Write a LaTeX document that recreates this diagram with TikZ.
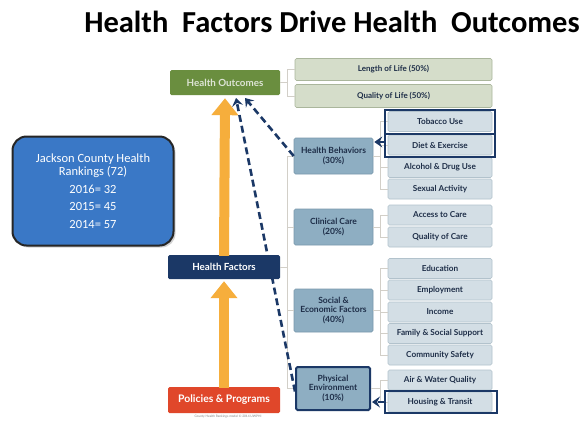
\documentclass[tikz,border=0pt]{standalone}
\usepackage{fontspec}
\setmainfont{Lato}
\newfontfamily\calib{Carlito}
\usetikzlibrary{arrows.meta,shadows}
\definecolor{hogreen}{HTML}{6A8E3F}
\definecolor{hosub}{HTML}{D5DDCA}
\definecolor{hosubd}{HTML}{AAB69C}
\definecolor{fbox}{HTML}{8EAEC2}
\definecolor{fboxd}{HTML}{7A98AC}
\definecolor{sbox}{HTML}{D3DEE5}
\definecolor{sboxd}{HTML}{B2C2CC}
\definecolor{navy}{HTML}{1B3866}
\definecolor{ftext}{HTML}{1E2E48}
\definecolor{orng}{HTML}{F6AE3C}
\definecolor{polred}{HTML}{E0472A}
\definecolor{conn}{HTML}{D2CFC8}
\definecolor{jblue}{HTML}{3A78C6}
\tikzset{
  x=1pt,y=-1pt,
  hobox/.style={draw=hosubd,fill=hosub,line width=0.6pt,rounded corners=1.5pt,text=ftext},
  fctbox/.style={draw=fboxd,fill=fbox,line width=0.6pt,rounded corners=1.5pt,text=ftext,align=center,font=\fontsize{8.5}{9.6}\selectfont\bfseries},
  subbox/.style={draw=sboxd,fill=sbox,line width=0.6pt,rounded corners=1.5pt,text=ftext,font=\fontsize{8.2}{9}\selectfont\bfseries},
  mainbox/.style={rounded corners=1.5pt,text=white,font=\fontsize{9.8}{11}\selectfont\bfseries},
  conline/.style={draw=conn,line width=1pt},
  orarrow/.style={draw=orng,line width=10pt,-{Triangle[width=26pt,length=17pt]}},
  dasharrow/.style={draw=navy,line width=2.6pt,dash pattern=on 7pt off 4pt,-{Stealth[length=8pt,width=11pt,inset=3pt]}},
  navyframe/.style={draw=navy,line width=2pt}
}
\begin{document}
\begin{tikzpicture}
\useasboundingbox (0,0) rectangle (585,421);
\fill[white] (0,0) rectangle (585,421);
% title
\node[font=\calib\fontsize{30.5}{33}\selectfont\bfseries,anchor=center] (title) at (332,22) {Health\ \ Factors\ Drive\ Health\ \ Outcomes};

% Health outcomes
\node[mainbox,fill=hogreen,text=hosub!80!white,minimum width=110pt,minimum height=25pt,inner sep=0pt] (ho) at (225,82.5) {Health Outcomes};
\node[hobox,minimum width=197pt,minimum height=22pt,inner sep=0pt,font=\fontsize{8}{9}\selectfont\bfseries] (lol) at (393.5,69.5) {Length of Life (50\%)};
\node[hobox,minimum width=197pt,minimum height=23pt,inner sep=0pt,font=\fontsize{8}{9}\selectfont\bfseries] (qol) at (393.5,96) {Quality of Life (50\%)};
\draw[conline] (ho.east) -- (287,82.5);
\draw[conline] (lol.west) -| (287,96) -- (qol.west);

% Health factors / policies
\node[mainbox,fill=navy,minimum width=112pt,minimum height=24pt,inner sep=0pt] (hf) at (224,267) {Health Factors};
\node[mainbox,fill=polred,minimum width=112pt,minimum height=26pt,inner sep=0pt,font=\fontsize{10.4}{12}\selectfont\bfseries] (pp) at (224,400) {Policies \& Programs};
\node[font=\fontsize{3.2}{3.5}\selectfont,text=gray] (cap) at (228,417) {County Health Rankings model \textcopyright{} 2014 UWPHI};

% orange arrows
\draw[orarrow] ([yshift=-1pt]pp.north) -- ([yshift=-2pt]hf.south);
\draw[orarrow] ([yshift=-1pt]hf.north) -- ([yshift=-3pt]ho.south);

% factor boxes
\node[fctbox,minimum width=79pt,minimum height=36pt,inner sep=1pt] (hb) at (333.5,156) {Health Behaviors\\(30\%)};
\node[fctbox,minimum width=79pt,minimum height=36pt,inner sep=1pt] (cc) at (333.5,227) {Clinical Care\\(20\%)};
\node[fctbox,minimum width=79pt,minimum height=43pt,inner sep=1pt] (se) at (333.5,310.5) {Social \&\\Economic Factors\\(40\%)};
\node[fctbox,minimum width=74pt,minimum height=43pt,inner sep=1pt,draw=navy,line width=2pt] (pe) at (333,388.5) {Physical\\Environment\\(10\%)};

% spine
\draw[conline] (hf.east) -- (287,267);
\draw[conline] (hb.west) -| (287,388.5) -- (pe.west);
\draw[conline] (287,227) -- (cc.west);
\draw[conline] (287,310.5) -- (se.west);

% sub boxes
\foreach \nm/\yy/\tx in {tu/121.5/Tobacco Use, de/145/Diet \& Exercise, ad/167.5/Alcohol \& Drug Use, sa/189/Sexual Activity,
  ac/215/Access to Care, qc/237/Quality of Care,
  ed/268.5/Education, em/290/Employment, in/312/Income, fs/333.5/Family \& Social Support, cs/355/Community Safety,
  aw/380/Air \& Water Quality, ht/402/Housing \& Transit}
  \node[subbox,minimum width=104pt,minimum height=20pt,inner sep=0pt] (\nm) at (440,\yy) {\tx};

\draw[conline] (hb.east) -- (380,156);
\draw[conline] (tu.west) -| (380,189) -- (sa.west);
\draw[conline] (380,145) -- (de.west);
\draw[conline] (380,167.5) -- (ad.west);
\draw[conline] (cc.east) -- (380,227);
\draw[conline] (ac.west) -| (380,237) -- (qc.west);
\draw[conline] (se.east) -- (380,310.5);
\draw[conline] (ed.west) -| (380,355) -- (cs.west);
\draw[conline] (380,290) -- (em.west);
\draw[conline] (380,312) -- (in.west);
\draw[conline] (380,333.5) -- (fs.west);
\draw[conline] (pe.east) -- (380,388.5);
\draw[conline] (aw.west) -| (380,402) -- (ht.west);

% navy frames
\draw[navyframe] (385,110) rectangle (495,157);
\draw[navyframe] (385,133.5) -- (495,133.5);
\coordinate (bf) at (385,142);
\draw[navyframe] (385,391) rectangle (497,413);
\coordinate (hf2) at (385,402);

% dashed arrows
\draw[dasharrow] (bf) -- ([xshift=1pt]hb.east |- bf);
\draw[dasharrow] (hf2) -- ([xshift=1pt]pe.east |- hf2);
\draw[dasharrow] (hb.west) -- (245,98);
\draw[dasharrow] ([yshift=-3pt]pe.west) -- (236,98);

% Jackson county box
\node[draw=black!85,line width=2pt,fill=jblue,rounded corners=14pt,minimum width=161pt,minimum height=109pt,
  drop shadow={opacity=0.35,shadow xshift=2pt,shadow yshift=-2pt},
  text=white,align=center,font=\calib\fontsize{12.5}{17.5}\selectfont] (jc) at (93,191) {Jackson County Health\\[-4.5pt]Rankings (72)\\2016= 32\\2015= 45\\2014= 57};
\end{tikzpicture}
\end{document}
